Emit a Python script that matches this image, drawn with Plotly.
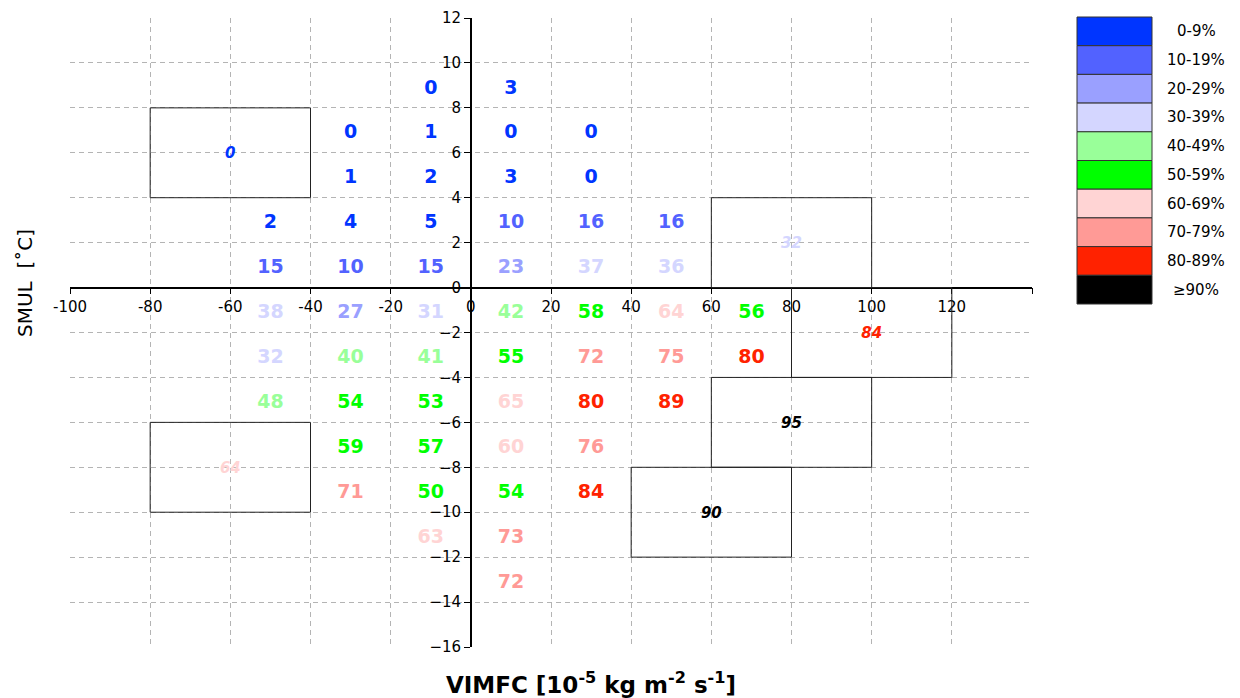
import plotly.graph_objects as go

# ---------------- data ----------------
cell_x = [-10, 10,
          -30, -10, 10, 30,
          -30, -10, 10, 30,
          -50, -30, -10, 10, 30, 50,
          -50, -30, -10, 10, 30, 50,
          -50, -30, -10, 10, 30, 50, 70,
          -50, -30, -10, 10, 30, 50, 70,
          -50, -30, -10, 10, 30, 50,
          -30, -10, 10, 30,
          -30, -10, 10, 30,
          -10, 10,
          10]
cell_y = [9, 9,
          7, 7, 7, 7,
          5, 5, 5, 5,
          3, 3, 3, 3, 3, 3,
          1, 1, 1, 1, 1, 1,
          -1, -1, -1, -1, -1, -1, -1,
          -3, -3, -3, -3, -3, -3, -3,
          -5, -5, -5, -5, -5, -5,
          -7, -7, -7, -7,
          -9, -9, -9, -9,
          -11, -11,
          -13]
cell_val = [0, 3,
            0, 1, 0, 0,
            1, 2, 3, 0,
            2, 4, 5, 10, 16, 16,
            15, 10, 15, 23, 37, 36,
            38, 27, 31, 42, 58, 64, 56,
            32, 40, 41, 55, 72, 75, 80,
            48, 54, 53, 65, 80, 89,
            59, 57, 60, 76,
            71, 50, 54, 84,
            63, 73,
            72]

box_x0 = [-80, 60, 80, 60, 40, -80]
box_x1 = [-40, 100, 120, 100, 80, -40]
box_y0 = [4, 0, -4, -8, -12, -10]
box_y1 = [8, 4, 0, -4, -8, -6]
box_val = [0, 32, 84, 95, 90, 64]

bin_colors = ["#0035ff", "#5262ff", "#9aa0ff", "#d4d6ff", "#99ff99",
              "#00ff00", "#ffd4d4", "#ff9a96", "#ff2200", "#000000"]
bin_labels = ["0-9%", "10-19%", "20-29%", "30-39%", "40-49%",
              "50-59%", "60-69%", "70-79%", "80-89%", "≥90%"]

x_ticks = [-100, -80, -60, -40, -20, 0, 20, 40, 60, 80, 100, 120]
y_ticks = [-16, -14, -12, -10, -8, -6, -4, -2, 0, 2, 4, 6, 8, 10, 12]
X_RANGE = [-100, 140]
Y_RANGE = [-16, 12]

# small vertical text nudge (style only)
TEXT_NUDGE = -0.15
BOX_TEXT_NUDGE = -0.08


def color_of(v):
    return bin_colors[min(int(v) // 10, 9)]


FONT = "DejaVu Sans"

fig = go.Figure()

# boxes
for x0, x1, y0, y1 in zip(box_x0, box_x1, box_y0, box_y1):
    fig.add_shape(type="rect", xref="x", yref="y", x0=x0, x1=x1, y0=y0, y1=y1,
                  line=dict(color="#222222", width=1), layer="above")

# cell numbers
fig.add_trace(go.Scatter(
    x=cell_x, y=[v + TEXT_NUDGE for v in cell_y], mode="text",
    text=[str(v) for v in cell_val],
    textfont=dict(family=FONT, size=19, weight="bold",
                  color=[color_of(v) for v in cell_val]),
    hoverinfo="skip", showlegend=False))

# box numbers
fig.add_trace(go.Scatter(
    x=[(a + b) / 2 for a, b in zip(box_x0, box_x1)],
    y=[(a + b) / 2 + BOX_TEXT_NUDGE for a, b in zip(box_y0, box_y1)],
    mode="text",
    text=[str(v) for v in box_val],
    textfont=dict(family=FONT, size=15, weight="bold", style="italic",
                  color=[color_of(v) for v in box_val]),
    hoverinfo="skip", showlegend=False))

# axes crossing at zero
x_pos = (0 - Y_RANGE[0]) / (Y_RANGE[1] - Y_RANGE[0])
y_pos = (0 - X_RANGE[0]) / (X_RANGE[1] - X_RANGE[0])

axis_common = dict(showline=True, linecolor="black", linewidth=1.5,
                   ticks="outside", ticklen=6, tickcolor="black", tickwidth=1.2,
                   showgrid=True, gridcolor="#b4b4b4", gridwidth=1, griddash="5px,4px",
                   zeroline=False, automargin=False,
                   tickfont=dict(family=FONT, size=15, color="black"))

fig.update_layout(
    width=1240, height=698,
    margin=dict(l=70, r=208, t=18, b=51, autoexpand=False),
    plot_bgcolor="white", paper_bgcolor="white",
    xaxis=dict(range=X_RANGE, tickvals=x_ticks + [140], ticktext=[str(t) for t in x_ticks] + [""],
               anchor="free", position=x_pos, **axis_common),
    yaxis=dict(range=Y_RANGE, tickvals=y_ticks,
               anchor="free", position=y_pos, **axis_common),
)

# axis titles
fig.add_annotation(xref="paper", yref="paper", x=(591 - 70) / 962, y=(647 - 683) / 629,
                   text="VIMFC [10<sup>-5</sup> kg m<sup>-2</sup> s<sup>-1</sup>]",
                   showarrow=False, xanchor="center", yanchor="middle",
                   font=dict(family=FONT, size=23, weight="bold", color="black"))
fig.add_annotation(xref="paper", yref="paper", x=(25 - 70) / 962, y=(647 - 283) / 629,
                   text="SMUL  [˚C]", textangle=-90,
                   showarrow=False, xanchor="center", yanchor="middle",
                   font=dict(family=FONT, size=20, color="black"))

# discrete colour legend
def px_to_paper_x(px):
    return (px - 70) / 962


def px_to_paper_y(py):
    return (647 - py) / 629


leg_left, leg_right, leg_top, leg_bottom = 1077, 1152, 17, 304
step = (leg_bottom - leg_top) / len(bin_colors)
for i, (c, lab) in enumerate(zip(bin_colors, bin_labels)):
    t = leg_top + i * step
    b = t + step
    fig.add_shape(type="rect", xref="paper", yref="paper",
                  x0=px_to_paper_x(leg_left), x1=px_to_paper_x(leg_right),
                  y0=px_to_paper_y(b), y1=px_to_paper_y(t),
                  fillcolor=c, line=dict(color="#333333", width=1))
    fig.add_annotation(xref="paper", yref="paper",
                       x=px_to_paper_x(1196), y=px_to_paper_y((t + b) / 2),
                       text=lab, showarrow=False, xanchor="center", yanchor="middle",
                       font=dict(family=FONT, size=15, color="black"))

fig.write_html("out.html", config={"displayModeBar": False},
               post_script="document.body.style.margin='0';document.body.style.overflow='hidden';")
